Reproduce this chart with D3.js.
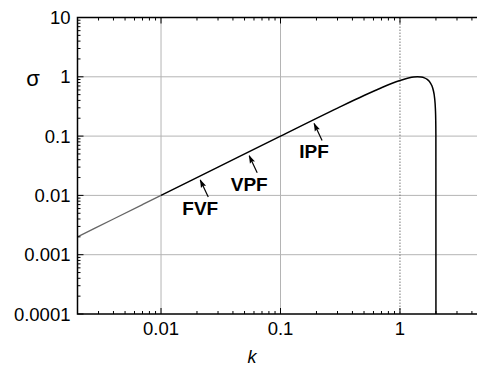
<!DOCTYPE html>
<html lang="en">
<head>
<meta charset="UTF-8">
<title>sigma vs k</title>
<style>
    body { margin: 0; background: #fff; }
    svg { display: block; font-family: Arial, "Liberation Sans", sans-serif; }
</style>
</head>
<body>
<svg width="477" height="368"></svg>
<script src="https://cdn.jsdelivr.net/npm/d3@7/dist/d3.min.js"></script>
<script>
// values
const kLow = [0.002, 0.004, 0.007, 0.01];
const sigmaLow = [0.002, 0.004, 0.007, 0.01];

const kMain = [0.01, 0.03, 0.1, 0.3, 0.5, 0.7, 0.85, 1.0, 1.1, 1.2, 1.3, 1.4, 1.5, 1.6, 1.7, 1.8, 1.85, 1.9, 1.95, 1.98, 1.99, 1.997, 2.0];
const sigmaMain = [0.01, 0.03, 0.1, 0.297, 0.484, 0.655, 0.77, 0.866, 0.918, 0.96, 0.988, 1.0, 0.992, 0.96, 0.895, 0.785, 0.705, 0.593, 0.433, 0.28, 0.199, 0.11, 0.0001];

const xTicks = [0.01, 0.1, 1];
const xTickLabels = ["0.01", "0.1", "1"];
const yTicks = [0.0001, 0.001, 0.01, 0.1, 1, 10];
const yTickLabels = ["0.0001", "0.001", "0.01", "0.1", "1", "10"];

const notes = ["FVF", "VPF", "IPF"];
const noteK = [0.0213, 0.0547, 0.191];

const svg = d3.select("svg");
const mLeft = 77.5, mRight = 483.5, mTop = 17.5, mBottom = 314;

const x = d3.scaleLog().domain([0.002, 5]).range([mLeft, mRight]);
const y = d3.scaleLog().domain([0.0001, 10]).range([mBottom, mTop]);

// grid
const grid = svg.append("g");
grid.selectAll("line.h")
    .data(yTicks.slice(1, -1))
    .join("line")
    .attr("x1", mLeft).attr("x2", mRight)
    .attr("y1", d => y(d)).attr("y2", d => y(d))
    .attr("stroke", "#b4b4b4").attr("stroke-width", 1);
grid.selectAll("line.v")
    .data(xTicks)
    .join("line")
    .attr("x1", d => x(d)).attr("x2", d => x(d))
    .attr("y1", mTop).attr("y2", mBottom)
    .attr("stroke", (d, i) => i == 2 ? "#777" : "#b4b4b4")
    .attr("stroke-dasharray", (d, i) => i == 2 ? "1.5,1.5" : null)
    .attr("stroke-width", 1);

// curve
const line = d3.line()
    .x(d => x(d[0]))
    .y(d => y(d[1]))
    .curve(d3.curveMonotoneX);

svg.append("path")
    .datum(kLow.map((k, i) => [k, sigmaLow[i]]))
    .attr("d", line)
    .attr("fill", "none")
    .attr("stroke", "#666")
    .attr("stroke-width", 1.3);

svg.append("path")
    .datum(kMain.map((k, i) => [k, sigmaMain[i]]))
    .attr("d", line)
    .attr("fill", "none")
    .attr("stroke", "#000")
    .attr("stroke-width", 1.5);

// minor ticks
const minorX = [];
for (let e = -3; e <= 0; e++) for (let m = 1; m <= 9; m++) {
    const v = m * Math.pow(10, e);
    if (v >= 0.002 && v <= 5) minorX.push(v);
}
const minorY = [];
for (let e = -4; e <= 0; e++) for (let m = 1; m <= 9; m++) minorY.push(m * Math.pow(10, e));
minorY.push(10);

const ticks = svg.append("g").attr("stroke", "#000").attr("stroke-width", 1);
const isMajor = v => Math.abs(Math.log10(v) - Math.round(Math.log10(v))) < 1e-6;

ticks.selectAll("line.bx")
    .data(minorX)
    .join("line")
    .attr("x1", d => x(d)).attr("x2", d => x(d))
    .attr("y1", mBottom).attr("y2", d => mBottom - (isMajor(d) ? 6 : 3));
ticks.selectAll("line.tx")
    .data(minorX)
    .join("line")
    .attr("x1", d => x(d)).attr("x2", d => x(d))
    .attr("y1", mTop).attr("y2", d => mTop + (isMajor(d) ? 6 : 3));
ticks.selectAll("line.ly")
    .data(minorY)
    .join("line")
    .attr("x1", mLeft).attr("x2", d => mLeft + (isMajor(d) ? 6 : 3))
    .attr("y1", d => y(d)).attr("y2", d => y(d));

// frame
svg.append("rect")
    .attr("x", mLeft).attr("y", mTop)
    .attr("width", mRight - mLeft).attr("height", mBottom - mTop)
    .attr("fill", "none").attr("stroke", "#000").attr("stroke-width", 1.5);

// tick labels
svg.append("g").selectAll("text")
    .data(xTicks)
    .join("text")
    .attr("x", d => x(d))
    .attr("y", mBottom + 21)
    .attr("text-anchor", "middle")
    .attr("font-size", 18.5)
    .text((d, i) => xTickLabels[i]);

svg.append("g").selectAll("text")
    .data(yTicks)
    .join("text")
    .attr("x", mLeft - 7)
    .attr("y", d => y(d) + 6.5)
    .attr("text-anchor", "end")
    .attr("font-size", 18.5)
    .text((d, i) => yTickLabels[i]);

// axis titles
svg.append("text")
    .attr("x", 33).attr("y", 86)
    .attr("text-anchor", "middle")
    .attr("font-size", 22)
    .text("σ");
svg.append("text")
    .attr("x", 252).attr("y", 363)
    .attr("text-anchor", "middle")
    .attr("font-size", 18)
    .attr("font-style", "italic")
    .text("k");

// annotations
svg.append("defs").append("marker")
    .attr("id", "head")
    .attr("viewBox", "0 0 12 10")
    .attr("refX", 11).attr("refY", 5)
    .attr("markerUnits", "userSpaceOnUse")
    .attr("markerWidth", 9).attr("markerHeight", 7)
    .attr("orient", "auto")
    .append("path")
    .attr("d", "M0,1 L12,5 L0,9 L2,5 Z")
    .attr("fill", "#000");

const ann = svg.append("g").selectAll("g")
    .data(notes)
    .join("g")
    .attr("transform", (d, i) => `translate(${x(noteK[i])},${y(noteK[i]) + 4})`);

ann.append("line")
    .attr("x1", 8).attr("y1", 17)
    .attr("x2", 0).attr("y2", 0)
    .attr("stroke", "#000").attr("stroke-width", 1.2)
    .attr("marker-end", "url(#head)");

ann.append("text")
    .attr("x", 0).attr("y", 35)
    .attr("text-anchor", "middle")
    .attr("font-size", 19)
    .attr("font-weight", "bold")
    .text(d => d);
</script>
</body>
</html>
